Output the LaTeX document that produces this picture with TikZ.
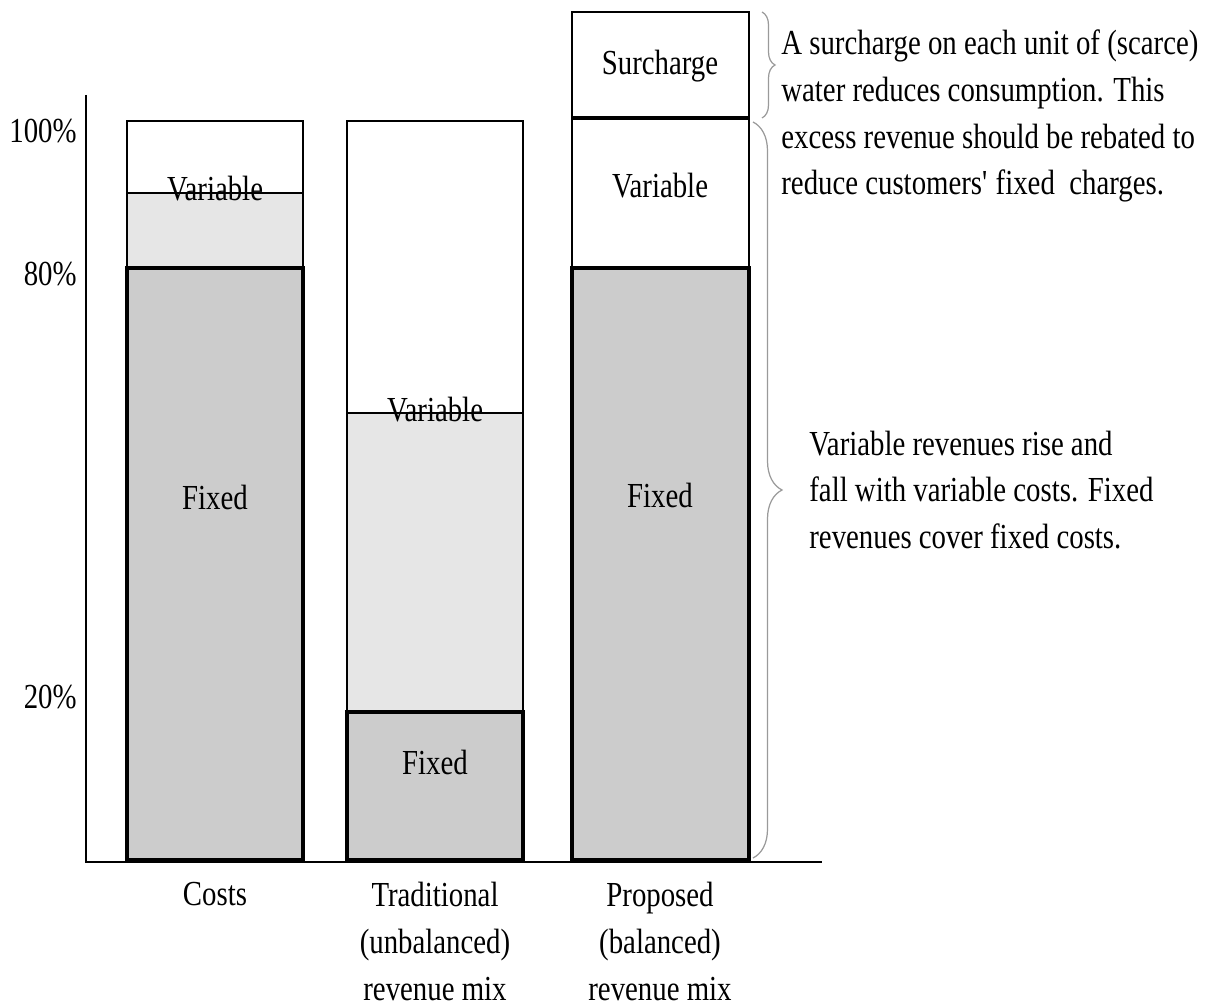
\documentclass[tikz,border=0pt]{standalone}
\usepackage{fontspec}
\setmainfont{Liberation Serif}[FakeStretch=0.82]
\usetikzlibrary{decorations.pathreplacing}
\definecolor{fixgray}{HTML}{CCCCCC}
\definecolor{vargray}{HTML}{E6E6E6}
\definecolor{bracegray}{HTML}{9A9A9A}
\tikzset{
  lbl/.style={font=\fontsize{20}{26.7}\selectfont, inner sep=0pt},
  thinbar/.style={line width=1.1pt},
  fixbar/.style={line width=2.8pt, fill=fixgray},
  curly/.style={bracegray, line width=0.7pt, decorate}
}
\begin{document}
\begin{tikzpicture}[x=0.02cm,y=-0.02cm]
    \useasboundingbox (0,0) rectangle (1206,1006);

    % axes
    \coordinate (ytop) at (86,95);
    \coordinate (orig) at (86,862);
    \coordinate (xend) at (822,862);
    \draw[line width=1.1pt] (ytop) -- (orig) -- (xend);
    \node[lbl, anchor=east] (p100) at (77,131) {100\%};
    \node[lbl, anchor=east] (p80) at (77,274) {80\%};
    \node[lbl, anchor=east] (p20) at (77,697) {20\%};

    % costs
    \fill[vargray] (127,193) rectangle (303,268);
    \draw[thinbar] (127,121) rectangle (303,268);
    \draw[thinbar] (127,193) -- (303,193);
    \draw[fixbar] (127,268) rectangle (303,860);
    \node[lbl] (cvar) at (215,189) {Variable};
    \node[lbl] (cfix) at (215,497) {Fixed};

    % traditional
    \fill[vargray] (347,413) rectangle (523,712);
    \draw[thinbar] (347,121) rectangle (523,712);
    \draw[thinbar] (347,413) -- (523,413);
    \draw[fixbar] (347,712) rectangle (523,860);
    \node[lbl] (tvar) at (435,410) {Variable};
    \node[lbl] (tfix) at (435,762) {Fixed};

    % proposed
    \draw[thinbar] (572,12) rectangle (749,118);
    \draw[thinbar] (572,118) rectangle (749,268);
    \draw[line width=2.4pt] (572,118) -- (749,118);
    \draw[fixbar] (572,268) rectangle (749,860);
    \node[lbl] (psur) at (660,66) {Surcharge};
    \node[lbl] (pvar) at (660,186) {Variable};
    \node[lbl] (pfix) at (660,495) {Fixed};

    % bar names
    \node[lbl, anchor=north] (costs) at (215,882) {Costs};
    \node[lbl, anchor=north, align=center] (trad) at (435,882)
      {Traditional\\(unbalanced)\\revenue mix};
    \node[lbl, anchor=north, align=center] (prop) at (660,882)
      {Proposed\\(balanced)\\revenue mix};

    % braces and notes
    \coordinate (b1a) at (762,12);
    \coordinate (b1b) at (762,118);
    \coordinate (b2a) at (753,122);
    \coordinate (b2b) at (753,858);
    \draw[curly, decoration={brace, amplitude=0.26cm}] (b1a) -- (b1b);
    \draw[curly, decoration={brace, amplitude=0.58cm}] (b2a) -- (b2b);
    \node[lbl, anchor=west, align=left] (note1) at (781,116)
      {A surcharge on each unit of (scarce)\\water reduces consumption. This\\excess revenue should be rebated to\\reduce customers\textquotesingle\ fixed\ \ charges.};
    \node[lbl, anchor=west, align=left] (note2) at (809,490)
      {Variable revenues rise and\\fall with variable costs. Fixed\\revenues cover fixed costs.};
\end{tikzpicture}
\end{document}
